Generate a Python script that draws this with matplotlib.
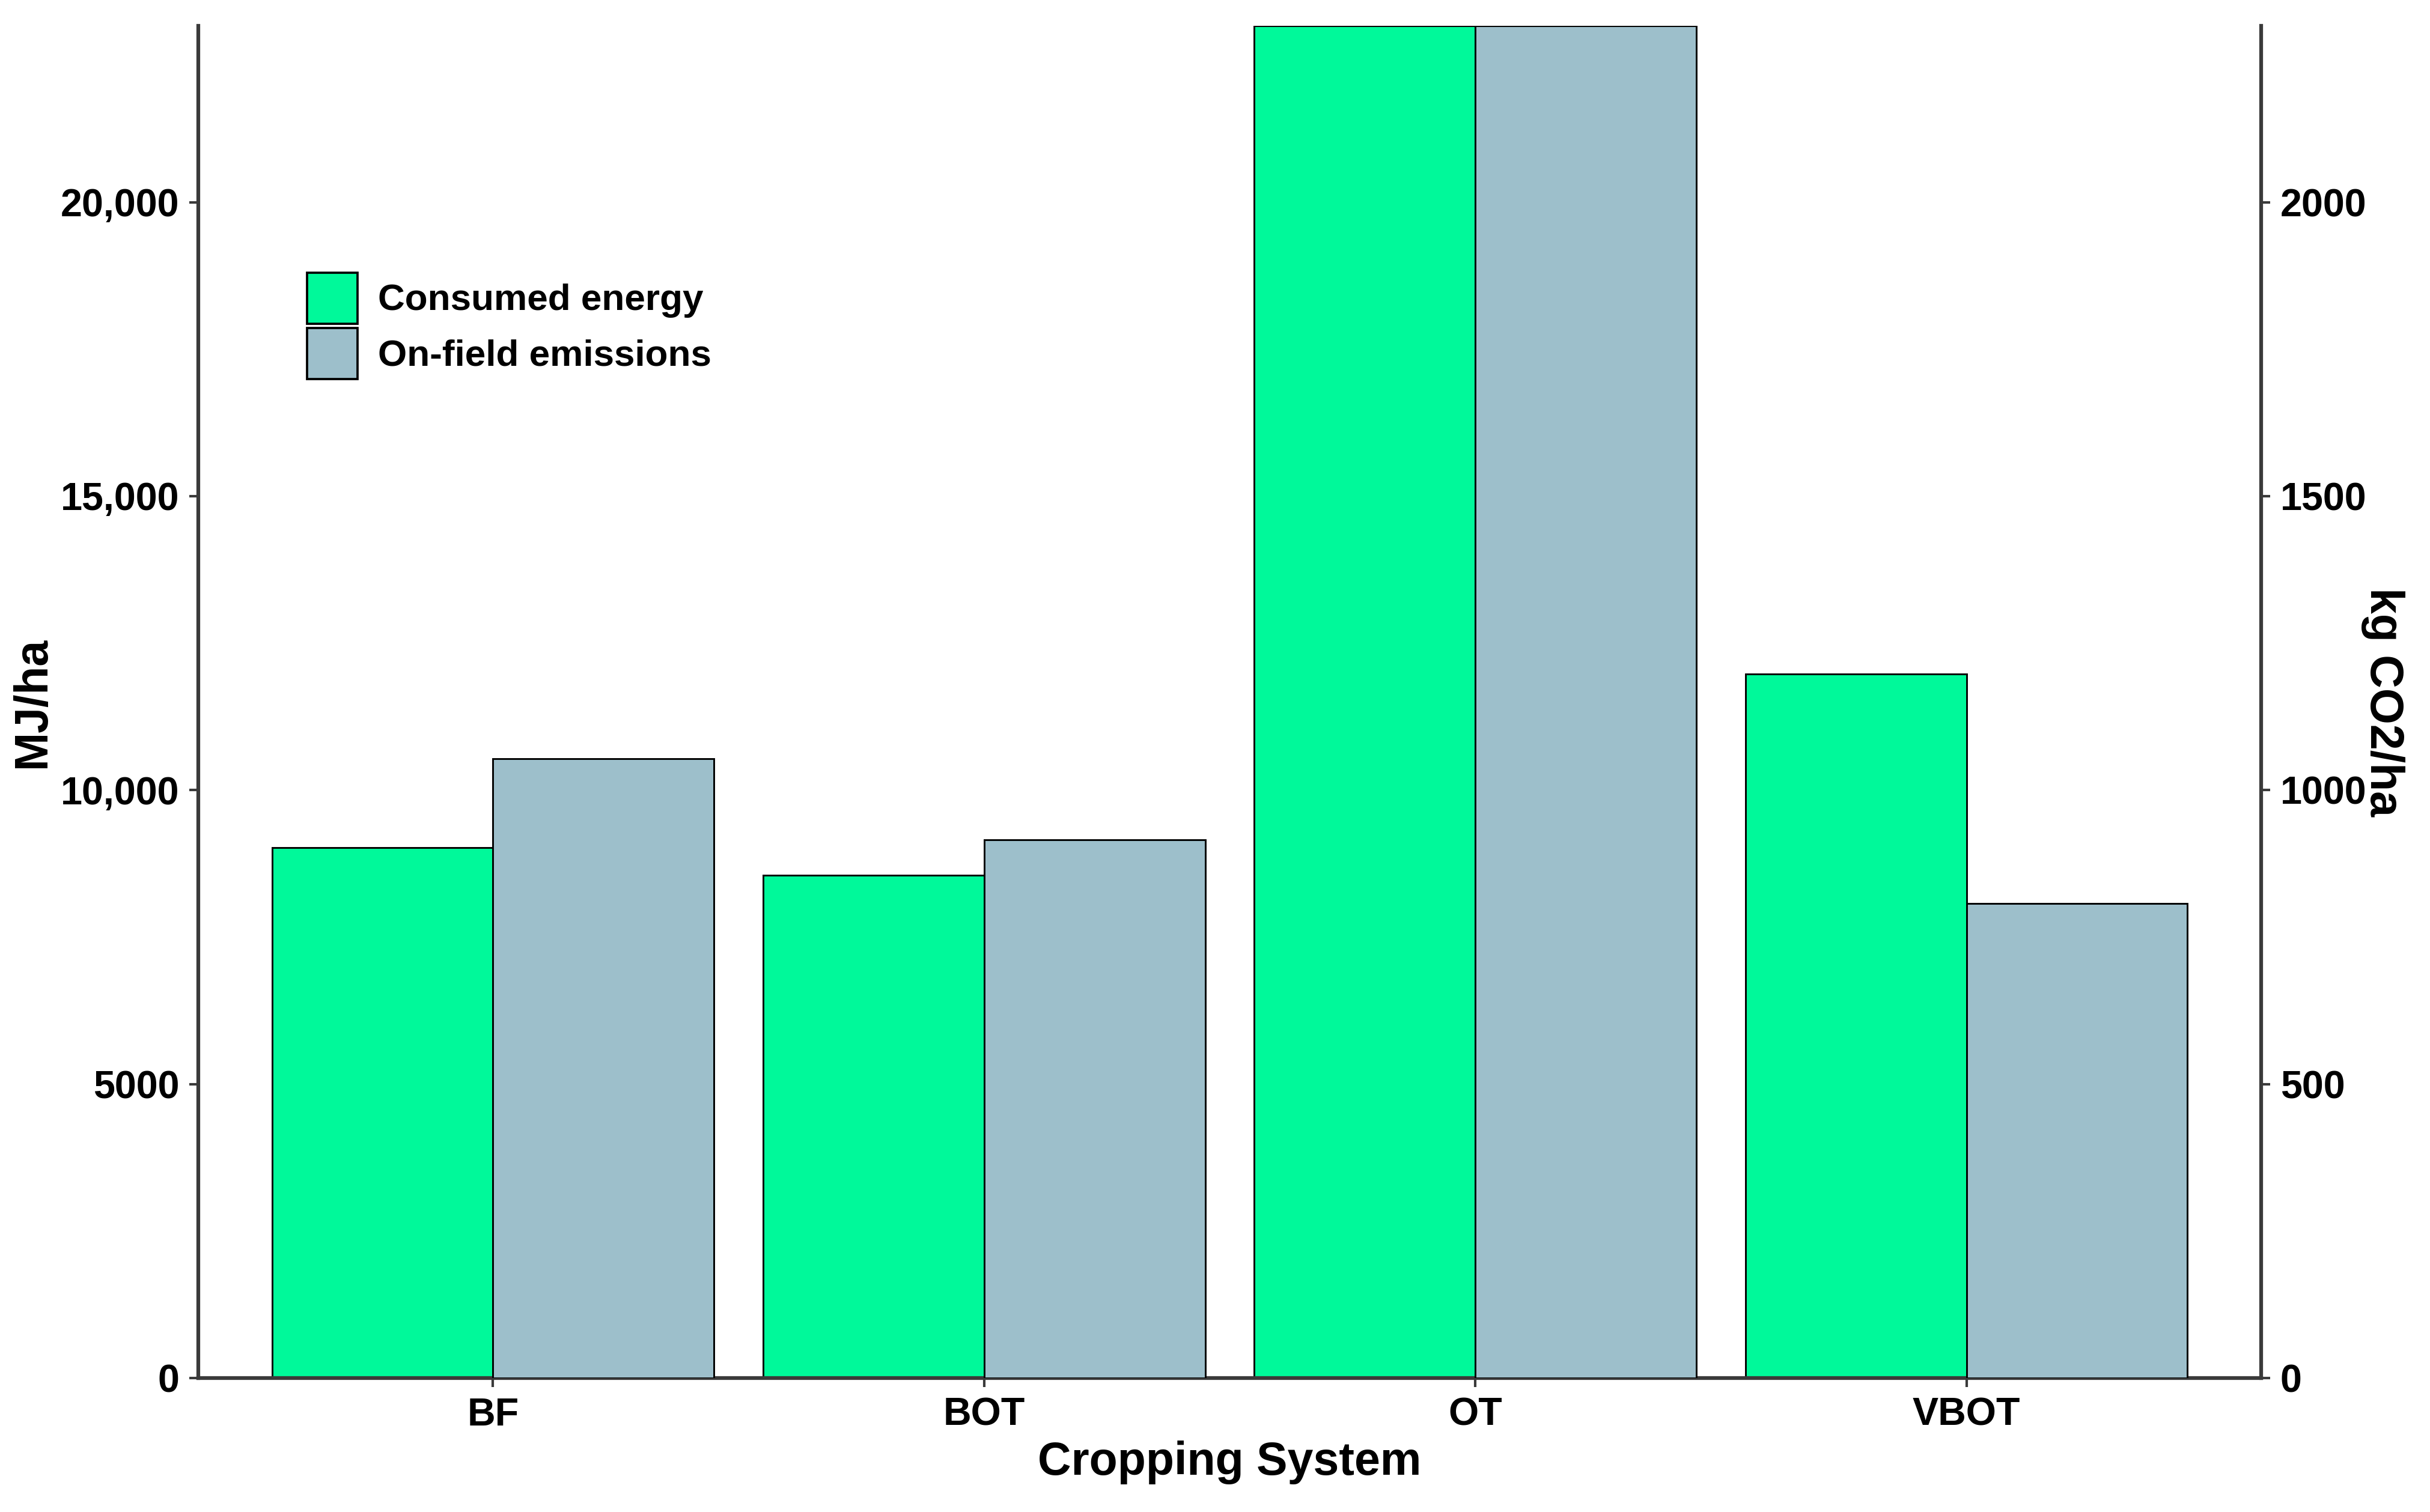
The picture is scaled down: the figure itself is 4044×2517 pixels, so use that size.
import matplotlib
matplotlib.use("Agg")
import matplotlib.pyplot as plt
import numpy as np
from matplotlib.patches import Patch

categories = ["BF", "BOT", "OT", "VBOT"]
consumed_energy = [9025, 8550, 23000, 11980]      # MJ/ha (left axis)
onfield_emissions = [1053, 915, 2300, 807]        # kg CO2/ha (right axis)
left_ticks = [0, 5000, 10000, 15000, 20000]
left_ticklabels = ["0", "5000", "10,000", "15,000", "20,000"]
right_ticks = [0, 500, 1000, 1500, 2000]
right_ticklabels = ["0", "500", "1000", "1500", "2000"]

green = "#00F99A"
grey = "#9DBFCB"

plt.rcParams['font.family'] = ['Liberation Sans', 'DejaVu Sans']
plt.rcParams['font.weight'] = 'bold'

W, H = 4044, 2517
L, R, B, T = 330, 3763, 2294, 43
fig = plt.figure(figsize=(W/300, H/300), dpi=300)
ax = fig.add_axes([L/W, 1 - B/H, (R-L)/W, (B-T)/H])
ax2 = ax.twinx()

x = np.arange(1, len(categories)+1)
w = 0.45
ax.bar(x - w/2, consumed_energy, width=w, color=green, edgecolor="black", linewidth=0.7, zorder=2)
ax2.bar(x + w/2, onfield_emissions, width=w, color=grey, edgecolor="black", linewidth=0.7, zorder=2)

ax.set_xlim(0.4, 4.6)
ax.set_ylim(0, 23000)
ax2.set_ylim(0, 2300)

tfs = 15.5
ax.set_xticks(x)
ax.set_xticklabels(categories, fontsize=tfs, fontweight='bold')
ax.set_yticks(left_ticks)
ax.set_yticklabels(left_ticklabels, fontsize=tfs, fontweight='bold')
ax2.set_yticks(right_ticks)
ax2.set_yticklabels(right_ticklabels, fontsize=tfs, fontweight='bold')

spine_col = "#3a3a3a"
for a in (ax, ax2):
    a.spines['top'].set_visible(False)
    for s in ('left', 'right', 'bottom'):
        a.spines[s].set_color(spine_col)
        a.spines[s].set_linewidth(1.5)
    a.tick_params(axis='both', colors=spine_col, length=3.6, width=1.0, labelcolor='black')
ax.spines['right'].set_visible(False)
ax2.spines['left'].set_visible(False)
ax2.spines['bottom'].set_visible(False)
ax.tick_params(axis='y', pad=4)
ax2.tick_params(axis='y', pad=4)
ax.tick_params(axis='x', pad=4)

ax.set_xlabel("Cropping System", fontsize=18.5, fontweight='bold', labelpad=3)
ax.set_ylabel("MJ/ha", fontsize=18.5, fontweight='bold')
ax.yaxis.set_label_coords((91 - L)/(R - L), 0.5)
ax2.set_ylabel("kg CO2/ha", fontsize=18.5, fontweight='bold', rotation=270)
ax2.yaxis.set_label_coords((4002 - L)/(R - L), 0.5)

handles = [Patch(facecolor=green, edgecolor="black", linewidth=0.9, label="Consumed energy"),
           Patch(facecolor=grey, edgecolor="black", linewidth=0.9, label="On-field emissions")]
leg = ax2.legend(handles=handles, loc='upper left', bbox_to_anchor=(0.0527, 0.8174),
                 frameon=False, borderpad=0, borderaxespad=0,
                 handlelength=1.36, handleheight=1.72, labelspacing=0.12, handletextpad=0.55,
                 prop={'weight': 'bold', 'size': 14.9})

fig.savefig("out.png", dpi=300)
